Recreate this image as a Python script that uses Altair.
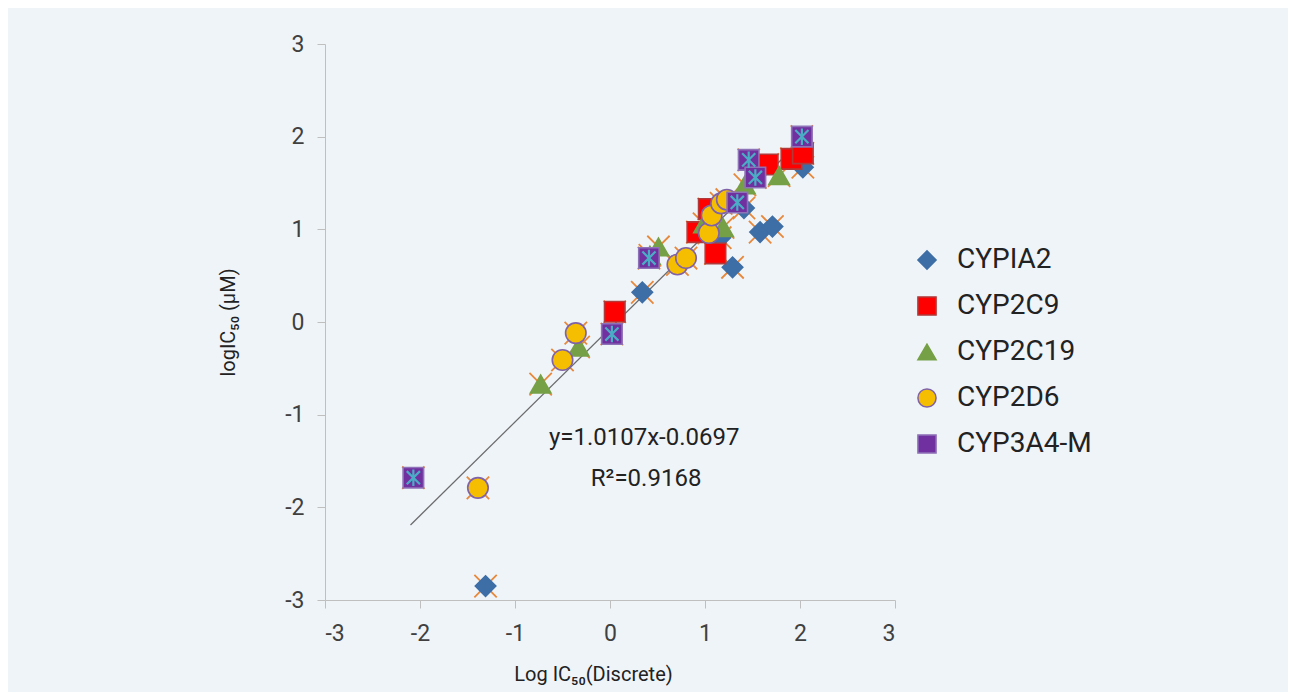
import altair as alt
import pandas as pd

series_names = ["CYPIA2", "CYP2C9", "CYP2C19", "CYP2D6", "CYP3A4-M"]

cyp1a2_x = [-1.31, 0.34, 1.29, 1.16, 1.41, 1.58, 1.71, 2.03]
cyp1a2_y = [-2.85, 0.32, 0.59, 0.91, 1.23, 0.97, 1.03, 1.67]

cyp2c9_x = [0.05, 1.11, 0.92, 1.04, 1.66, 1.91, 2.03]
cyp2c9_y = [0.11, 0.74, 0.97, 1.22, 1.70, 1.76, 1.82]

cyp2c19_x = [-0.73, -0.33, 0.42, 0.51, 0.99, 1.19, 1.42, 1.78]
cyp2c19_y = [-0.67, -0.27, 0.72, 0.81, 1.06, 1.02, 1.48, 1.58]

cyp2d6_x = [-1.39, -0.50, -0.36, 0.71, 0.80, 1.04, 1.07, 1.17, 1.23]
cyp2d6_y = [-1.79, -0.41, -0.12, 0.62, 0.69, 0.96, 1.15, 1.28, 1.32]

cyp3a4_x = [-2.07, 0.02, 0.41, 1.34, 1.46, 1.53, 2.02]
cyp3a4_y = [-1.68, -0.13, 0.69, 1.29, 1.75, 1.56, 2.00]

trend_x = [-2.10, 2.03]
trend_y = [-2.19, 1.98]

axis_ticks = [-3, -2, -1, 0, 1, 2, 3]

annot_text = ["y=1.0107x-0.0697", "R²=0.9168"]
annot_x = [0.36, 0.38]
annot_y = [-1.25, -1.69]

shapes = ["diamond", "square", "triangle-up", "circle", "square"]
fills = ["#3E6EA6", "#FF0000", "#76A046", "#F5BE00", "#7030A0"]
strokes = ["#3E6EA6", "#B03A3A", "#76A046", "#7F62A8", "#8E72B8"]

rows = []
for name, xs, ys in zip(series_names,
                        [cyp1a2_x, cyp2c9_x, cyp2c19_x, cyp2d6_x, cyp3a4_x],
                        [cyp1a2_y, cyp2c9_y, cyp2c19_y, cyp2d6_y, cyp3a4_y]):
    for a, b in zip(xs, ys):
        rows.append({"series": name, "x": a, "y": b})
df = pd.DataFrame(rows)

trend_df = pd.DataFrame({"x": trend_x, "y": trend_y})
annot_df = pd.DataFrame({"x": annot_x, "y": annot_y, "t": annot_text})

xscale = alt.Scale(domain=[-3, 3], nice=False, zero=False)
yscale = alt.Scale(domain=[-3, 3], nice=False, zero=False)

xenc = alt.X("x:Q", scale=xscale, axis=alt.Axis(
    values=axis_ticks, title="Log IC₅₀(Discrete)", titleX=268, titleY=74,
    titleBaseline="middle", titleAlign="center", labelPadding=14,
    labelExpr="datum.value"))
yenc = alt.Y("y:Q", scale=yscale, axis=alt.Axis(
    values=axis_ticks, title="logIC₅₀ (μM)", titleX=-97, titleY=278,
    titleAngle=270, titleBaseline="middle", titleAlign="center", labelPadding=13,
    labelExpr="datum.value"))

leg = alt.Legend(title=None, orient="none", legendX=588, legendY=202)

base = alt.Chart(df)

crosses = base.mark_point(
    shape="M-1,-1L1,1M1,-1L-1,1", filled=False, stroke="#E8883A",
    strokeWidth=1.8, size=500, opacity=1
).encode(x=xenc, y=yenc)

points = base.mark_point(filled=True, opacity=1, strokeWidth=1.6, size=420).encode(
    x=xenc, y=yenc,
    shape=alt.Shape("series:N", scale=alt.Scale(domain=series_names, range=shapes), legend=leg),
    fill=alt.Fill("series:N", scale=alt.Scale(domain=series_names, range=fills), legend=leg),
    stroke=alt.Stroke("series:N", scale=alt.Scale(domain=series_names, range=strokes), legend=leg),
)

stars = base.transform_filter(alt.datum.series == "CYP3A4-M").mark_point(
    shape="M0,-1L0,1M-0.8,-0.8L0.8,0.8M0.8,-0.8L-0.8,0.8", filled=False,
    stroke="#4BACC6", strokeWidth=2.2, size=270, opacity=1
).encode(x=xenc, y=yenc)

trend = alt.Chart(trend_df).mark_line(color="#6b6b6b", strokeWidth=1.3).encode(x=xenc, y=yenc)

annot = alt.Chart(annot_df).mark_text(
    font="Roboto", fontSize=24, color="#222222", align="center", baseline="middle"
).encode(x=xenc, y=yenc, text="t:N")

chart = alt.layer(crosses, trend, points, stars, annot).properties(
    width=570, height=556,
    autosize=alt.AutoSizeParams(type="none"),
    padding={"left": 317, "top": 36, "right": 393, "bottom": 92},
    background="#EFF4F9",
).configure_view(stroke=None).configure_axis(
    grid=False, domainColor="#BFBFBF", tickColor="#BFBFBF", tickSize=8,
    labelFont="Roboto", labelFontSize=23, labelColor="#404040",
    titleFont="Roboto", titleFontSize=20, titleColor="#222222", titleFontWeight="normal",
).configure_legend(
    labelFont="Roboto", labelFontSize=28, labelColor="#222222",
    symbolSize=330, symbolStrokeWidth=1.5, rowPadding=18, labelOffset=16,
)

chart.save("out.html", embed_options={"renderer": "svg", "actions": False})
